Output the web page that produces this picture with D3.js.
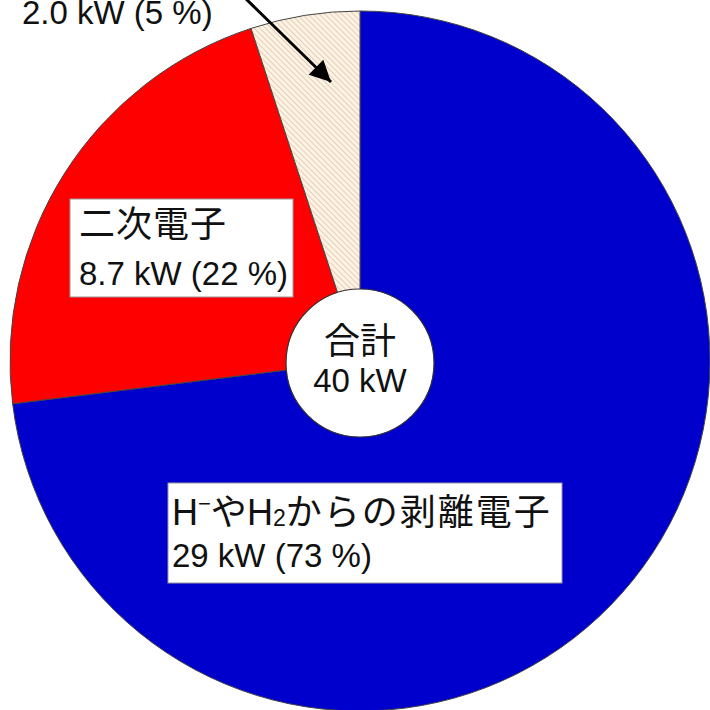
<!DOCTYPE html>
<html>
<head>
<meta charset="utf-8">
<script src="https://cdn.jsdelivr.net/npm/d3@7"></script>
<style>
  html, body { margin: 0; padding: 0; background: #fff; }
  svg { display: block; }
  text { font-family: "Liberation Sans", Arial, "Noto Sans CJK JP", sans-serif; fill: #111; }
  .cjk { font-family: "Noto Sans CJK JP", sans-serif; }
</style>
</head>
<body>
<svg id="chart" width="710" height="710"></svg>
<script>
// Power deposited by electron source (kW), clockwise from 12 o'clock
const categories = ["stripped", "secondary", "other"];
const values = [29, 8.7, 2.0];
const percents = [73, 22, 5];
const totalLabel = ["合計", "40 kW"];
const sliceColors = ["#0000cd", "#ff0000", "url(#hatch)"];

const svg = d3.select("#chart");
const cx = 360, cy = 361, R = 350;

// diagonal hatch for the small slice
const defs = svg.append("defs");
const pat = defs.append("pattern")
  .attr("id", "hatch")
  .attr("patternUnits", "userSpaceOnUse")
  .attr("width", 4).attr("height", 4)
  .attr("patternTransform", "rotate(-45)");
pat.append("rect").attr("width", 4).attr("height", 4).attr("fill", "#fcf3e6");
pat.append("line").attr("x1", 0).attr("y1", 0).attr("x2", 0).attr("y2", 4)
  .attr("stroke", "#d9b58e").attr("stroke-width", 1.2);

const pie = d3.pie().sort(null).value(d => d)(values);
const arc = d3.arc().innerRadius(0).outerRadius(R);

const g = svg.append("g").attr("transform", `translate(${cx},${cy})`);
g.selectAll("path.slice")
  .data(pie)
  .join("path")
  .attr("class", "slice")
  .attr("d", arc)
  .attr("fill", (d, i) => sliceColors[i])
  .attr("stroke", "#444")
  .attr("stroke-width", 1);

// centre disc with the total
const hole = { x: 360, y: 363, r: 74 };
svg.append("circle")
  .attr("cx", hole.x).attr("cy", hole.y).attr("r", hole.r)
  .attr("fill", "#fff").attr("stroke", "#333").attr("stroke-width", 1.2);
svg.append("text").attr("class", "cjk")
  .attr("x", hole.x).attr("y", 354)
  .attr("text-anchor", "middle").attr("font-size", 36)
  .text(totalLabel[0]);
svg.append("text")
  .attr("x", hole.x).attr("y", 392)
  .attr("text-anchor", "middle").attr("font-size", 33)
  .text(totalLabel[1]);

const fmt = i => `${i === 2 ? values[i].toFixed(1) : values[i]} kW (${percents[i]} %)`;

// label box: secondary electrons
const box2 = svg.append("g");
box2.append("rect").attr("x", 70).attr("y", 199).attr("width", 223).attr("height", 98)
  .attr("fill", "#fff").attr("stroke", "#999").attr("stroke-width", 1);
box2.append("text").attr("class", "cjk").attr("x", 79).attr("y", 237).attr("font-size", 36)
  .attr("letter-spacing", 1).text("二次電子");
box2.append("text").attr("x", 79).attr("y", 285).attr("font-size", 33).text(fmt(1));

// label box: stripped electrons
const box1 = svg.append("g");
box1.append("rect").attr("x", 168).attr("y", 483).attr("width", 394).attr("height", 100)
  .attr("fill", "#fff").attr("stroke", "#999").attr("stroke-width", 1);
const t1 = box1.append("text").attr("x", 172).attr("y", 525).attr("font-size", 36);
t1.append("tspan").text("H");
t1.append("tspan").attr("font-size", 22).attr("dy", -14).text("−");
t1.append("tspan").attr("dy", 14).attr("class", "cjk").text("や");
t1.append("tspan").text("H");
t1.append("tspan").attr("font-size", 23).attr("dy", 1).text("2");
t1.append("tspan").attr("dy", -1).attr("class", "cjk").attr("letter-spacing", 2).text("からの剥離電子");
box1.append("text").attr("x", 172).attr("y", 567).attr("font-size", 33).text(fmt(0));

// small slice label at the top with its pointer arrow
svg.append("text").attr("x", 22).attr("y", 24).attr("font-size", 33).text(fmt(2));

defs.append("marker")
  .attr("id", "arrowhead")
  .attr("viewBox", "0 0 10 10")
  .attr("refX", 10).attr("refY", 5)
  .attr("markerWidth", 9).attr("markerHeight", 7)
  .attr("markerUnits", "strokeWidth")
  .attr("orient", "auto")
  .append("path").attr("d", "M0,0 L10,5 L0,10 Z").attr("fill", "#000");

svg.append("line")
  .attr("x1", 243).attr("y1", -4).attr("x2", 331).attr("y2", 82)
  .attr("stroke", "#000").attr("stroke-width", 3)
  .attr("marker-end", "url(#arrowhead)");
</script>
</body>
</html>
